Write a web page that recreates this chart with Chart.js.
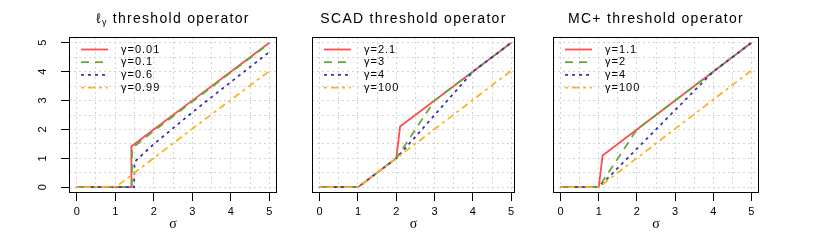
<!DOCTYPE html>
<html>
<head>
<meta charset="utf-8">
<script src="https://cdn.jsdelivr.net/npm/chart.js@4.4.0/dist/chart.umd.min.js"></script>
<style>
  body { margin: 0; background: #fff; width: 830px; height: 243px; overflow: hidden; position: relative;
         font-family: 'Liberation Sans', Arial, sans-serif; }
  canvas { position: absolute; top: 0; }
  .title { position: absolute; top: 10px; line-height: 16px; font-size: 14px; letter-spacing: 1.3px;
           text-align: center; white-space: nowrap; color: #000; }
  .title sub { font-size: 9px; vertical-align: -2px; letter-spacing: 1px; }
</style>
</head>
<body>
<canvas id="lgChart" width="290" height="243" style="left:0px"></canvas>
<canvas id="scadChart" width="250" height="243" style="left:290px"></canvas>
<canvas id="mcpChart" width="290" height="243" style="left:540px"></canvas>
<div class="title" style="left:69px;width:208px">ℓ<sub>γ</sub> threshold operator</div>
<div class="title" style="left:312px;width:203px">SCAD threshold operator</div>
<div class="title" style="left:553px;width:206px">MC+ threshold operator</div>
<script>
// tick labels and grid positions (grid every 0.5, labels on integers)
const tickValues = [0, 1, 2, 3, 4, 5];
const gridValues = [0, 0.5, 1, 1.5, 2, 2.5, 3, 3.5, 4, 4.5, 5];

// l_gamma threshold operator
const lgLabels = ['γ=0.01', 'γ=0.1', 'γ=0.6', 'γ=0.99'];
const lgSigma = [
    [0, 1.41, 1.42, 2, 3, 4, 5],
    [0, 1.43, 1.44, 2, 2.5, 3, 4, 5],
    [0, 1.49, 1.5, 1.6, 2, 2.5, 3, 3.5, 4, 4.5, 5],
    [0, 1.03, 1.5, 2, 3, 4, 5]
];
const lgTheta = [
    [0, 0, 1.41, 1.995, 2.997, 3.998, 4.998],
    [0, 0, 1.36, 1.945, 2.455, 2.962, 3.971, 4.977],
    [0, 0, 0.87, 1.0, 1.49, 2.04, 2.59, 3.12, 3.64, 4.16, 4.68],
    [0, 0.02, 0.5, 1.01, 2.02, 3.02, 4.02]
];

// SCAD threshold operator
const scadLabels = ['γ=2.1', 'γ=3', 'γ=4', 'γ=100'];
const scadSigma = [
    [0, 1, 2, 2.1, 5],
    [0, 1, 2, 3, 5],
    [0, 1, 2, 4, 5],
    [0, 1, 2, 5]
];
const scadTheta = [
    [0, 0, 1, 2.1, 5],
    [0, 0, 1, 3, 5],
    [0, 0, 1, 4, 5],
    [0, 0, 1, 4.03]
];

// MC+ threshold operator
const mcpLabels = ['γ=1.1', 'γ=2', 'γ=4', 'γ=100'];
const mcpSigma = [
    [0, 1, 1.1, 5],
    [0, 1, 2, 5],
    [0, 1, 4, 5],
    [0, 1, 5]
];
const mcpTheta = [
    [0, 0, 1.1, 5],
    [0, 0, 2, 5],
    [0, 0, 4, 5],
    [0, 0, 4.04]
];

const seriesColors = ['#FF4D4D', '#66A83A', '#3535B5', '#FFB11E'];
const seriesDashes = [[], [8, 6], [3, 4], [3, 4, 7, 4]];

Chart.defaults.font.family = "'Liberation Sans', Arial, sans-serif";
Chart.defaults.color = '#000';

// draws the full box, the rotated y labels (R style) and the legend
const boxAndLegend = {
    id: 'boxAndLegend',
    afterDatasetsDraw(chart, args, opts) {
        const { ctx, chartArea: a } = chart;
        ctx.save();
        ctx.strokeStyle = '#000';
        ctx.lineWidth = 1;
        ctx.setLineDash([]);
        ctx.strokeRect(a.left + 0.5, a.top + 0.5, a.right - a.left - 1, a.bottom - a.top - 1);

        ctx.font = "11px 'Liberation Sans', Arial, sans-serif";
        ctx.fillStyle = '#000';
        ctx.textBaseline = 'middle';

        if (opts.yLabels) {
            const yScale = chart.scales.y;
            ctx.textAlign = 'center';
            tickValues.forEach(v => {
                ctx.save();
                ctx.translate(a.left - 26, yScale.getPixelForValue(v));
                ctx.rotate(-Math.PI / 2);
                ctx.fillText(String(v), 0, 0);
                ctx.restore();
            });
        }

        ctx.textAlign = 'left';
        ctx.letterSpacing = '1px';
        chart.data.datasets.forEach((ds, i) => {
            const y = a.top + 12.5 + i * 12.7;
            ctx.strokeStyle = ds.borderColor;
            ctx.lineWidth = ds.borderWidth;
            ctx.setLineDash(ds.borderDash);
            ctx.beginPath();
            ctx.moveTo(a.left + 12, y);
            ctx.lineTo(a.left + 39, y);
            ctx.stroke();
            ctx.fillText(ds.label, a.left + 52, y);
        });
        ctx.restore();
    }
};

function setGridTicks(scale) {
    scale.ticks = gridValues.map(v => ({ value: v }));
}

function tickMarkColor(c) {
    return tickValues.includes(c.tick.value) ? '#000' : 'rgba(0,0,0,0)';
}

function buildPanel(id, labels, xs, ys, cfg) {
    const datasets = labels.map((label, i) => ({
        label: label,
        data: xs[i].map((x, j) => ({ x: x, y: ys[i][j] })),
        borderColor: seriesColors[i],
        borderDash: seriesDashes[i],
        borderWidth: 1.8,
        pointRadius: 0,
        fill: false,
        tension: 0,
        order: labels.length - i
    }));

    return new Chart(document.getElementById(id), {
        type: 'line',
        data: { datasets },
        options: {
            responsive: false,
            animation: false,
            layout: { padding: { left: 0, top: 37, right: cfg.padRight, bottom: 0 } },
            plugins: {
                legend: { display: false },
                tooltip: { enabled: false },
                boxAndLegend: { yLabels: cfg.showY }
            },
            scales: {
                x: {
                    type: 'linear',
                    min: -0.2,
                    max: cfg.xMax,
                    afterBuildTicks: setGridTicks,
                    afterFit: s => { s.height = 50; },
                    ticks: {
                        autoSkip: false, maxRotation: 0, padding: 4,
                        font: { size: 11 },
                        callback: v => tickValues.includes(v) ? String(v) : ''
                    },
                    grid: { color: '#d3d3d3', lineWidth: 1, tickLength: 8, tickWidth: 1, tickColor: tickMarkColor },
                    border: { display: false, dash: [2, 3] },
                    title: {
                        display: true, text: 'σ', color: '#000',
                        font: { family: "'Liberation Serif', serif", size: 14 },
                        padding: { top: 0, bottom: 10 }
                    }
                },
                y: {
                    type: 'linear',
                    min: -0.2,
                    max: 5.2,
                    afterBuildTicks: setGridTicks,
                    afterFit: s => { s.width = cfg.yWidth; },
                    ticks: { display: false },
                    grid: { color: '#d3d3d3', lineWidth: 1, drawTicks: cfg.showY, tickLength: 8, tickWidth: 1, tickColor: tickMarkColor },
                    border: { display: false, dash: [2, 3] }
                }
            }
        },
        plugins: [boxAndLegend]
    });
}

buildPanel('lgChart', lgLabels, lgSigma, lgTheta, { padRight: 13, yWidth: 69, xMax: 5.2, showY: true });
buildPanel('scadChart', scadLabels, scadSigma, scadTheta, { padRight: 25, yWidth: 22, xMax: 5.1, showY: false });
buildPanel('mcpChart', mcpLabels, mcpSigma, mcpTheta, { padRight: 71, yWidth: 13, xMax: 5.2, showY: false });
</script>
</body>
</html>
